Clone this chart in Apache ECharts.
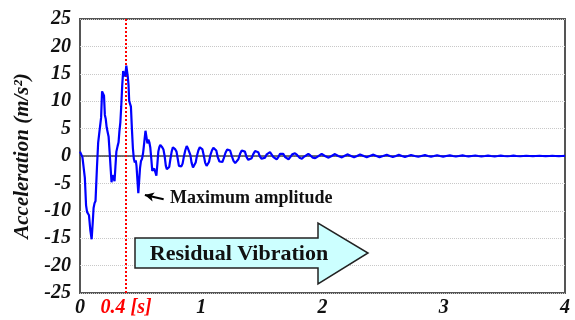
<!DOCTYPE html>
<html><head><meta charset="utf-8">
<script src="https://cdn.jsdelivr.net/npm/echarts@6/dist/echarts.min.js"></script>
<style>html,body{margin:0;padding:0;background:#fff}#c{width:575px;height:320px}</style>
</head><body><div id="c"></div>
<script>
// time [s]
var times = [
0.000,0.010,0.020,0.030,0.040,0.050,0.058,0.066,0.074,0.085,0.096,0.104,0.112,0.120,0.128,0.140,0.150,0.158,0.166,0.174,
0.182,0.190,0.198,0.205,0.212,0.220,0.228,0.236,0.245,0.252,0.260,0.268,0.276,0.285,0.292,0.300,0.310,0.318,0.325,0.333,
0.340,0.348,0.356,0.362,0.368,0.375,0.382,0.388,0.394,0.400,0.406,0.414,0.420,0.428,0.436,0.444,0.452,0.460,0.466,0.474,
0.481,0.488,0.495,0.503,0.512,0.520,0.530,0.540,0.548,0.556,0.564,0.572,0.580,0.588,0.596,0.604,0.612,0.622,0.630,0.638,
0.646,0.654,0.662,0.670,0.678,0.688,0.698,0.708,0.716,0.726,0.736,0.746,0.756,0.766,0.776,0.786,0.796,0.806,0.816,0.826,
0.836,0.846,0.856,0.868,0.880,0.890,0.900,0.910,0.920,0.932,0.944,0.954,0.964,0.976,0.988,1.000,1.010,1.020,1.032,1.044,
1.054,1.064,1.076,1.088,1.100,1.112,1.124,1.136,1.150,1.162,1.174,1.186,1.200,1.214,1.226,1.238,1.252,1.266,1.280,1.292,
1.306,1.320,1.334,1.347,1.360,1.374,1.388,1.402,1.416,1.430,1.444,1.457,1.470,1.484,1.498,1.512,1.526,1.540,1.555,1.567,
1.580,1.595,1.610,1.622,1.636,1.650,1.663,1.676,1.692,1.706,1.720,1.734,1.750,1.773,1.790,1.810,1.830,1.850,1.865,1.883,
1.900,1.920,1.940,1.960,1.993,2.020,2.050,2.075,2.103,2.130,2.160,2.180,2.205,2.235,2.260,2.285,2.310,2.340,2.365,2.390,
2.420,2.445,2.470,2.500,2.530,2.555,2.580,2.605,2.630,2.655,2.680,2.705,2.730,2.760,2.790,2.815,2.845,2.870,2.895,2.920,
2.945,2.970,2.995,3.020,3.050,3.075,3.100,3.125,3.155,3.180,3.205,3.230,3.260,3.285,3.310,3.340,3.365,3.390,3.420,3.445,
3.470,3.495,3.525,3.550,3.575,3.600,3.630,3.655,3.680,3.710,3.735,3.760,3.790,3.815,3.840,3.870,3.895,3.920,3.950,3.975,
4.000];
// acceleration [m/s^2]
var accel = [
0.8,0.5,-0.2,-0.3,-4,-9,-10.2,-10.0,-10.8,-13.5,-15.2,-12.5,-9.5,-8.6,-8.2,-2,2.5,4.0,4.2,7,
11.8,12.0,11.0,7.5,6.8,5.2,5.5,3.5,0.5,-2,-4.8,-3.5,-3.8,-4.6,-2,0.8,1.8,2.5,4.5,6.2,
9,12.8,15.5,15.8,14.5,15.0,16.5,16.2,14.5,13.0,10.0,9.8,9.0,5.0,1.5,-0.5,-1.2,-0.8,-1.8,-4.5,
-6.8,-4.5,-2.2,-0.9,-0.5,0.5,2.5,4.6,3.5,2.3,3.0,2.5,1.5,-0.5,-2.7,-2.4,-2.3,-3.0,-3.6,-1.5,
0.8,1.6,2.0,1.8,1.6,1.2,0,-1.8,-2.4,-2.4,-2.0,-0.5,0.8,1.6,1.6,1.2,0.8,-0.5,-1.8,-2.1,
-1.9,-1.4,-0.2,1.0,1.8,1.4,1.2,0.2,-1.2,-2.1,-1.9,-1.2,0,1.0,1.6,1.6,1.2,0.2,-1.2,-1.8,
-1.7,-1.1,0.2,1.0,1.5,1.5,1.0,-0.2,-1.0,-1.3,-1.1,-0.4,0.6,1.2,1.3,1.0,0.0,-0.9,-1.3,-1.5,
-0.6,0.4,1.0,1.3,0.8,-0.2,-0.7,-0.9,-0.4,0.4,0.9,1.1,0.7,-0.1,-0.5,-0.6,-0.3,0.3,0.6,0.7,
0.4,-0.2,-0.5,-0.6,-0.2,0.4,0.7,0.4,-0.2,-0.5,-0.6,-0.2,0.3,0.5,0.2,-0.3,-0.5,-0.1,0.2,0.4,
0.1,-0.3,-0.4,-0.1,0.4,0.0,-0.3,0.0,0.35,0.0,-0.25,0.0,0.3,0.0,-0.25,0.0,0.28,0.0,-0.22,0.0,
0.25,0.0,-0.2,0.0,0.22,0.0,-0.18,0.0,0.2,0.0,-0.15,0.0,0.18,0.0,-0.14,0.0,0.16,0.0,-0.12,0.0,
0.14,0.0,-0.1,0.0,0.12,0.0,-0.09,0.0,0.1,0.0,-0.08,0.0,0.09,0.0,-0.07,0.0,0.08,0.0,-0.06,0.0,
0.07,0.0,-0.05,0.0,0.06,0.0,-0.05,0.0,0.05,0.0,-0.04,0.0,0.04,0.0,-0.04,0.0,0.04,0.0,-0.03,0.0,
0.03];
var xTicks = [0, 1, 2, 3, 4];
var stopTime = 0.38;          // red dotted marker
var stopLabel = '0.4 [s]';

var data = times.map(function (t, i) { return [t, accel[i]]; });
var serif = '"Liberation Serif", "DejaVu Serif", serif';

var chart = echarts.init(document.getElementById('c'), null, {renderer: 'canvas'});
chart.setOption({
  animation: false,
  backgroundColor: '#fff',
  grid: {left: 80, right: 10, top: 19, bottom: 27, show: true, borderColor: '#555', borderWidth: 2, backgroundColor: 'transparent'},
  xAxis: {
    type: 'value', min: 0, max: 4,
    axisLine: {show: false},
    axisTick: {show: false},
    splitLine: {show: false},
    axisLabel: {
      customValues: xTicks.concat([stopTime]),
      margin: 5,
      fontFamily: serif, fontWeight: 'bold', fontStyle: 'italic', fontSize: 20, color: '#111',
      formatter: function (v) { return v === stopTime ? '{r|' + stopLabel + '}' : String(v); },
      rich: {r: {color: '#ff0000', fontFamily: serif, fontWeight: 'bold', fontStyle: 'italic', fontSize: 20}}
    }
  },
  yAxis: {
    type: 'value', min: -25, max: 25, interval: 5,
    name: 'Acceleration (m/s²)', nameLocation: 'middle', nameGap: 47,
    nameTextStyle: {fontFamily: serif, fontWeight: 'bold', fontStyle: 'italic', fontSize: 21, color: '#111'},
    axisLine: {show: false},
    axisTick: {show: false},
    axisLabel: {margin: 9, fontFamily: serif, fontWeight: 'bold', fontStyle: 'italic', fontSize: 20, color: '#111'},
    splitLine: {show: true, lineStyle: {color: '#c8c8c8', type: 'dotted', width: 1}}
  },
  series: [{
    type: 'line', data: data, showSymbol: false, symbol: 'none', smooth: false,
    lineStyle: {color: '#0000ff', width: 2.2},
    z: 5,
    markLine: {
      silent: true, symbol: ['none', 'none'], animation: false,
      label: {show: false},
      data: [
        {yAxis: 0, lineStyle: {color: '#444', type: 'solid', width: 1.5}},
        {xAxis: stopTime, lineStyle: {color: '#ff0000', type: 'dotted', width: 2}},
        [{coord: [0.69, -7.9], symbol: 'none', lineStyle: {color: '#000', type: 'solid', width: 2}},
         {coord: [0.535, -7.1], symbol: 'arrow', symbolSize: [7, 9]}]
      ]
    }
  }],
  graphic: [
    {type: 'text', left: 170, top: 189, style: {text: 'Maximum amplitude', fontFamily: serif, fontWeight: 'bold', fontSize: 18, fill: '#111'}},
    {type: 'polygon', shape: {points: [[135,238],[318,238],[318,223],[368,253],[318,284],[318,268],[135,268]]},
     style: {fill: '#ccffff', stroke: '#222', lineWidth: 1.5}, z: 10},
    {type: 'text', x: 239, y: 254, style: {text: 'Residual Vibration', fontFamily: serif, fontWeight: 'bold', fontSize: 22, fill: '#111', align: 'center', verticalAlign: 'middle'}, z: 11}
  ]
});
</script></body></html>
